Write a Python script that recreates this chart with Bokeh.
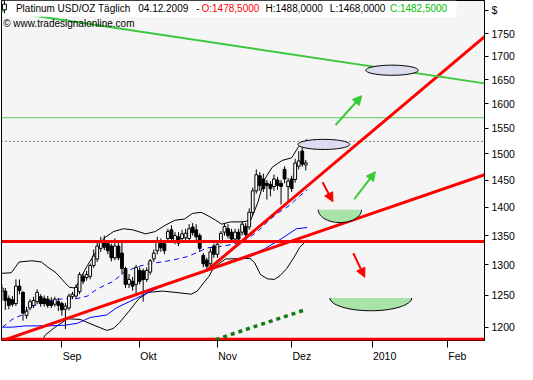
import numpy as np
from bokeh.plotting import figure
from bokeh.models import Range1d, FixedTicker, PrintfTickFormatter, Label, Arrow, NormalHead
from bokeh.embed import file_html
from bokeh.resources import INLINE

# ---------------- data (bar index: 0 = first trading day of Sep 2009) ----------------
bar = list(range(-17, 70))
open_ = [1257, 1257, 1245, 1243, 1237, 1265, 1255, 1218, 1230, 1234, 1240, 1248, 1245, 1244, 1240, 1236, 1240,
         1237, 1228, 1230, 1248, 1249, 1256, 1281, 1279, 1281, 1299, 1310, 1328, 1340, 1336, 1332, 1312, 1332,
         1320, 1294, 1268, 1273, 1268, 1291, 1290, 1276, 1288, 1310, 1324, 1337, 1336, 1345, 1360, 1340, 1348,
         1345, 1346, 1345, 1365, 1360, 1350, 1316, 1308, 1302, 1332, 1318, 1340, 1356, 1362, 1356, 1344, 1356,
         1356, 1366, 1365, 1391, 1430, 1458, 1452, 1444, 1442, 1438, 1450, 1444, 1470, 1438, 1452, 1451, 1476,
         1505, 1478.5]
high = [1268, 1262, 1250, 1249, 1276, 1276, 1257, 1232, 1244, 1248, 1260, 1252, 1250, 1249, 1247, 1248, 1246,
        1240, 1238, 1253, 1256, 1268, 1288, 1286, 1290, 1302, 1326, 1340, 1348, 1350, 1342, 1336, 1345, 1340,
        1340, 1297, 1285, 1280, 1300, 1296, 1294, 1296, 1310, 1326, 1348, 1345, 1342, 1362, 1368, 1356, 1356,
        1360, 1362, 1370, 1372, 1370, 1354, 1320, 1312, 1328, 1336, 1340, 1358, 1372, 1370, 1362, 1362, 1362,
        1375, 1372, 1398, 1436, 1470, 1465, 1462, 1450, 1448, 1460, 1456, 1450, 1476, 1454, 1458, 1490, 1505,
        1514, 1488]
low = [1242, 1227, 1228, 1232, 1233, 1252, 1210, 1213, 1226, 1230, 1236, 1232, 1232, 1230, 1230, 1232, 1225,
       1218, 1197, 1226, 1244, 1245, 1252, 1268, 1274, 1276, 1295, 1305, 1322, 1325, 1318, 1306, 1308, 1308,
       1284, 1262, 1262, 1258, 1252, 1268, 1240, 1272, 1284, 1305, 1318, 1322, 1318, 1340, 1340, 1335, 1332,
       1340, 1340, 1340, 1350, 1342, 1322, 1296, 1290, 1298, 1312, 1312, 1336, 1350, 1345, 1338, 1338, 1338,
       1350, 1346, 1360, 1386, 1425, 1430, 1428, 1414, 1420, 1430, 1432, 1405, 1444, 1410, 1428, 1445, 1470,
       1475, 1468]
close = [1262, 1242, 1234, 1236, 1265, 1258, 1222, 1225, 1240, 1242, 1255, 1237, 1237, 1234, 1234, 1244, 1234,
         1227, 1233, 1249, 1252, 1263, 1284, 1273, 1284, 1299, 1315, 1332, 1340, 1330, 1324, 1312, 1332, 1312,
         1294, 1268, 1276, 1265, 1296, 1273, 1276, 1291, 1307, 1320, 1340, 1329, 1324, 1357, 1345, 1350, 1337,
         1353, 1354, 1362, 1355, 1348, 1328, 1302, 1298, 1322, 1318, 1335, 1354, 1366, 1350, 1344, 1356, 1344,
         1370, 1352, 1391, 1430, 1460, 1440, 1434, 1440, 1434, 1452, 1440, 1438, 1452, 1448, 1434, 1482, 1486,
         1480, 1482.5]

# Bollinger bands
bb_up_x = [-17.1, -14.3, -12.1, -8.5, -5.8, -3.9, -1.65, 0.8, 2.2, 3.9, 5.0, 7.2, 9.9, 11.8, 14.6, 17.4, 20.1,
           23.7, 26.4, 29.2, 32.0, 34.7, 36.9, 39.4, 41.6, 43.5, 45.2, 47.7, 51.2, 53.4, 55.4, 57.3, 59.5, 62.3,
           65.0, 67.0, 69.4]
bb_up = [1286, 1287, 1305, 1307, 1305, 1296, 1287, 1271, 1263, 1262, 1275, 1299, 1324, 1345, 1357, 1362, 1360,
         1353, 1357, 1368, 1377, 1379, 1389, 1391, 1384, 1377, 1370, 1374, 1374, 1377, 1408, 1451, 1474, 1487,
         1492, 1514, 1528]
bb_lo_x = [-6.6, -4.7, -1.9, 1.65, 5.2, 9.1, 12.7, 14.6, 16.3, 19.0, 21.8, 24.5, 28.4, 32.0, 36.6, 38.3, 40.2,
           41.6, 43.0, 46.3, 53.2, 54.5, 56.2, 58.1, 60.1, 61.7, 63.6, 65.6, 67.2, 69.4]
bb_lo = [1170, 1188, 1200, 1213, 1212, 1203, 1195, 1198, 1207, 1225, 1245, 1255, 1257, 1255, 1252, 1257, 1271,
         1281, 1296, 1310, 1311, 1304, 1284, 1277, 1276, 1282, 1294, 1312, 1329, 1343]
# moving averages
ma_fast_x = [-16.8, -14.1, -11.3, -8.5, -5.8, -3.0, 0.8, 4.4, 7.2, 9.9, 12.7, 14.6, 17.4, 20.9, 24.5, 28.4, 32.0,
             35.5, 39.4, 41.0, 43.5, 48.5, 52.6, 55.4, 58.1, 60.9, 64.5, 67.2, 69.4]
ma_fast = [1200, 1212, 1219, 1233, 1237, 1242, 1245, 1245, 1249, 1260, 1268, 1273, 1287, 1296, 1302, 1305, 1309,
           1314, 1324, 1329, 1330, 1335, 1345, 1357, 1374, 1389, 1404, 1420, 1432]
ma_slow_x = [-16.8, -14.1, -10.2, -3.9, 0.8, 4.4, 8.0, 12.7, 15.4, 20.9, 26.4, 32.0, 36.6, 41.6, 43.5, 47.9, 52.6,
             57.3, 61.7, 66.4, 69.4]
ma_slow = [1200, 1200, 1202, 1202, 1203, 1206, 1215, 1219, 1230, 1245, 1260, 1273, 1282, 1291, 1296, 1307, 1315,
           1327, 1343, 1362, 1364]

tick_pos = [0, 22, 44, 65, 88, 109]
tick_labels = ["Sep", "Okt", "Nov", "Dez", "2010", "Feb"]
price_ticks = [1200, 1250, 1300, 1350, 1400, 1450, 1500, 1550, 1600, 1650, 1700, 1750]
currency_label = "$"

# drawn trend lines / levels
support_level = 1340
bottom_level = 1181.6
resist_level = 1571
dotted_level = 1524
trend_slow_x, trend_slow_y = [-16.0, 119.6], [1181, 1460]
trend_fast_x, trend_fast_y = [41.3, 119.6], [1292, 1743.6]
channel_x, channel_y = [-17.1, 119.6], [1803, 1642]
dash_green_x, dash_green_y = [43.5, 68.2], [1181, 1226]

# ---------------- figure ----------------
X0, X1 = -17.08, 119.56
Y0, Y1 = 1179.6, 1826.7
FONT = "Liberation Sans"
FS = "10.5px"

p = figure(width=517, height=364, output_backend="svg", toolbar_location=None,
           y_axis_type="log", x_range=Range1d(X0, X1), y_range=Range1d(Y0, Y1),
           y_axis_location="right", min_border_left=1, min_border_top=0,
           min_border_right=32, min_border_bottom=22)
p.background_fill_color = "#f5f5f5"
p.border_fill_color = "white"
p.outline_line_color = "black"
p.grid.visible = False

# right price axis (the currency sign sits at the top of it)
ya = p.yaxis[0]
currency_pos = 1804
ya.ticker = FixedTicker(ticks=price_ticks + [currency_pos])
ya.formatter = PrintfTickFormatter(format="%d")
ya.major_label_overrides = {currency_pos: currency_label}
ya.major_label_text_font = FONT
ya.major_label_text_font_size = FS
ya.major_label_text_color = "black"
ya.major_tick_in = 0
ya.major_tick_out = 4
ya.minor_tick_line_color = None
ya.axis_line_color = "black"
ya.major_label_standoff = 3

# bottom axis: month labels start at their tick marks (padded with no-break spaces)
pad = [7, 6, 7, 7, 8, 7]
xa = p.xaxis[0]
xa.ticker = FixedTicker(ticks=tick_pos)
xa.major_label_overrides = {tp: "\u00a0" * n + tl for tp, tl, n in zip(tick_pos, tick_labels, pad)}
xa.major_label_text_font = FONT
xa.major_label_text_font_size = FS
xa.major_label_text_color = "black"
xa.major_label_standoff = 2
xa.major_tick_in = 0
xa.major_tick_out = 7
xa.minor_tick_line_color = None
xa.axis_line_color = None

# bands and averages
p.line(bb_up_x, bb_up, line_color="black", line_width=1)
p.line(bb_lo_x, bb_lo, line_color="black", line_width=1)
p.line(ma_slow_x, ma_slow, line_color="#0000ff", line_width=1)
p.line(ma_fast_x, ma_fast, line_color="#0000ff", line_width=1, line_dash="5 4")

# candles
up = [c >= o for o, c in zip(open_, close)]
top = [max(o, c) for o, c in zip(open_, close)]
bot = [min(o, c) for o, c in zip(open_, close)]
p.segment(x0=bar, y0=low, x1=bar, y1=high, line_color="black", line_width=1)
p.vbar(x=[b for b, u in zip(bar, up) if u], top=[t for t, u in zip(top, up) if u],
       bottom=[b for b, u in zip(bot, up) if u], width=0.8, fill_color="white", line_color="black")
p.vbar(x=[b for b, u in zip(bar, up) if not u], top=[t for t, u in zip(top, up) if not u],
       bottom=[b for b, u in zip(bot, up) if not u], width=0.8, fill_color="black", line_color="black")

# levels
p.line([X0, X1], [dotted_level] * 2, line_color="black", line_width=1, line_dash="1 3")
p.line([X0, X1], [resist_level] * 2, line_color="#5cc85c", line_width=1)
p.line([X0, X1], [support_level] * 2, line_color="#ff0000", line_width=3)
p.line([X0, X1], [bottom_level] * 2, line_color="#ff0000", line_width=3)
p.line(trend_slow_x, trend_slow_y, line_color="#ff0000", line_width=3)
p.line(trend_fast_x, trend_fast_y, line_color="#ff0000", line_width=3)
p.line(channel_x, channel_y, line_color="#3cc83c", line_width=2)
p.line(dash_green_x, dash_green_y, line_color="#137a13", line_width=3.5, line_dash="4 4")

# ellipses (targets)
t = np.linspace(0, 2 * np.pi, 60)
for cx, cy, a, h in [(93.4, 1670, 7.4, 0.0065), (74.1, 1518, 7.3, 0.0065)]:
    p.patch(cx + a * np.cos(t), cy * np.exp(h * np.sin(t)), fill_color="#dcdcf0",
            line_color="black", line_width=1)

# half ellipses (bowls)
th = np.linspace(0, np.pi, 40)
for cx, cy, a, d in [(78.65, 1395.7, 6.12, 0.0165), (87.4, 1246, 11.57, 0.0165)]:
    xs = cx + a * np.cos(th)
    ys = cy * np.exp(-d * np.sin(th))
    p.patch(xs, ys, fill_color="#a8e4a8", line_color=None)
    p.line(xs, ys, line_color="black", line_width=1)

# arrows
for (x0, y0, x1, y1, col) in [(77.4, 1556, 84.85, 1616, "#33cc33"),
                              (82.7, 1414.6, 88.7, 1465.7, "#33cc33"),
                              (73.75, 1446, 76.67, 1410, "#ff0000"),
                              (82.45, 1319.9, 85.67, 1279.5, "#ff0000")]:
    p.add_layout(Arrow(x_start=x0, y_start=y0, x_end=x1, y_end=y1, line_color=col, line_width=2,
                       end=NormalHead(size=9, fill_color=col, line_color=col)))

# header box and texts
p.quad(left=[-16.5], right=[111.6], top=[Y1], bottom=[1789], fill_color="white", line_color=None)
p.segment(x0=[-16.25], y0=[1826], x1=[-16.25], y1=[1797], line_color="black")
p.quad(left=[-16.8], right=[-15.7], top=[1818], bottom=[1805], fill_color="white", line_color="black")

hy = 1808.5
for txt, xx, col in [("Platinum USD/OZ Täglich", -13.0, "black"), ("04.12.2009", 21.6, "black"),
                     ("-", 38.0, "black"), ("O:1478,5000", 39.5, "#ff0000"),
                     ("H:1488,0000", 57.6, "black"), ("L:1468,0000", 75.8, "black"),
                     ("C:1482,5000", 92.8, "#00c000")]:
    p.add_layout(Label(x=xx, y=hy, text=txt, text_font=FONT, text_font_size="10px",
                       text_color=col, text_baseline="middle", text_align="left"))
p.add_layout(Label(x=-16.6, y=1773.7, text="© www.tradesignalonline.com", text_font=FONT,
                   text_font_size="10px", text_color="black", text_baseline="middle", text_align="left"))

open("out.html", "w").write(file_html(p, INLINE))
